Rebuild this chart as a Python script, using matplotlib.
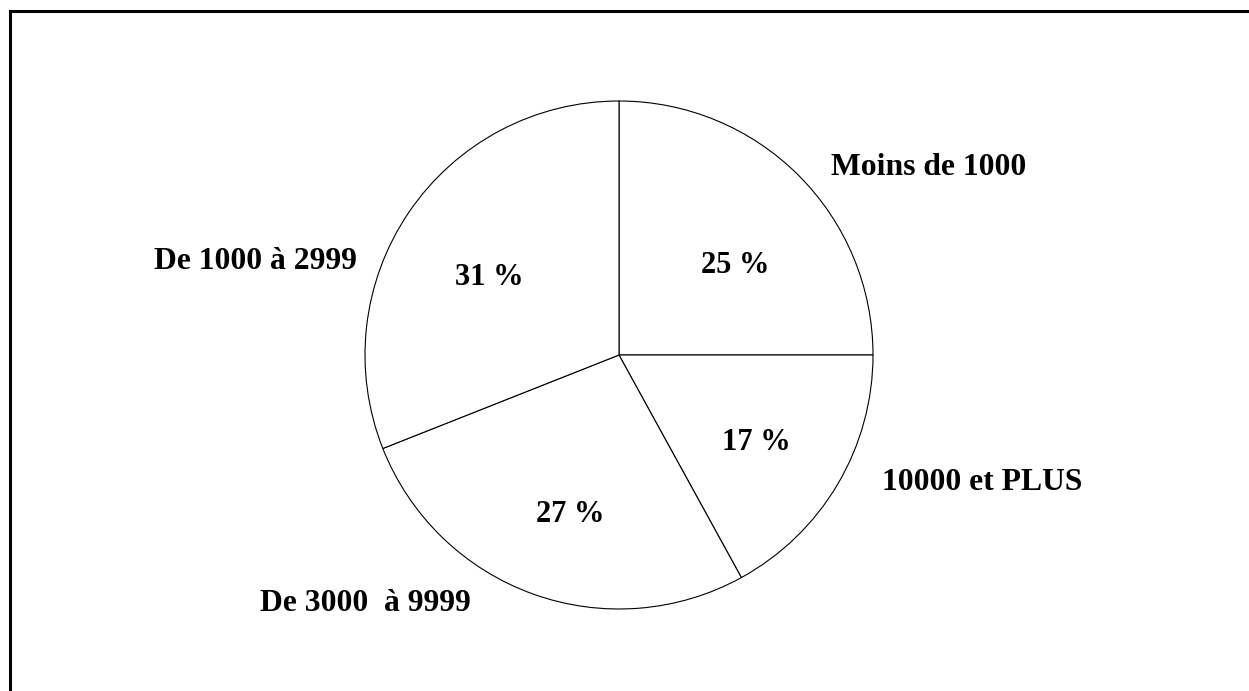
import matplotlib
matplotlib.use('Agg')
import matplotlib.pyplot as plt

# data
categories = ['Moins de 1000', '10000 et PLUS', 'De 3000  à 9999', 'De 1000 à 2999']
values = [25, 17, 27, 31]

# label placement (in pie-radius units)
label_pos = [(1.22, 0.74), (1.43, -0.50), (-1.0, -0.98), (-1.43, 0.37)]
pct_pos = [(0.457, 0.354), (0.539, -0.346), (-0.193, -0.626), (-0.512, 0.307)]

plt.rcParams['font.family'] = ['Liberation Serif', 'DejaVu Serif']
plt.rcParams['font.weight'] = 'bold'

fig = plt.figure(figsize=(12.49, 6.91), dpi=100)
ax = fig.add_axes([0, 0, 1, 1])

wedges, texts, autotexts = ax.pie(values, startangle=90, counterclock=False,
                                  colors=['white'] * len(values),
                                  wedgeprops=dict(edgecolor='black', linewidth=0.8),
                                  autopct=lambda p: f'{p:.0f} %', pctdistance=0.62)

for t, pos in zip(autotexts, pct_pos):
    t.set_position(pos)
    t.set_fontsize(22)
    t.set_fontweight('bold')

for lab, pos in zip(categories, label_pos):
    ax.text(pos[0], pos[1], lab, ha='center', va='center', fontsize=22.8, fontweight='bold')

# map center to (619, 355) px with radius 254 px
r = 254
ax.set_xlim(-619 / r, (1249 - 619) / r)
ax.set_ylim(-(691 - 355) / r, 355 / r)
ax.set_aspect('auto')
ax.axis('off')

# frame (only top and left edges visible)
fig.add_artist(plt.Line2D([0.008, 1.0], [0.984, 0.984], color='black', lw=2.2, transform=fig.transFigure))
fig.add_artist(plt.Line2D([0.008, 0.008], [0.0, 0.984], color='black', lw=2.2, transform=fig.transFigure))

plt.savefig('out.png', dpi=100)
